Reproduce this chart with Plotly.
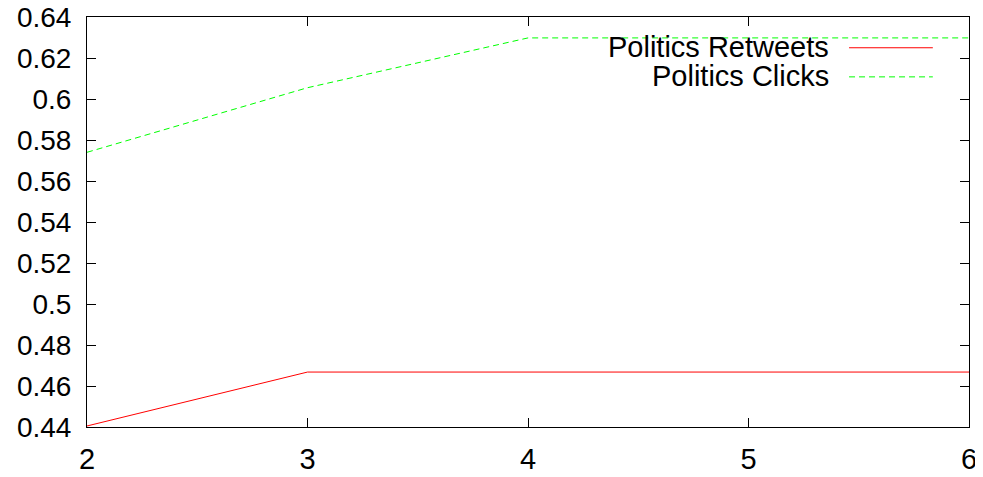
import plotly.graph_objects as go

x_vals = [2, 3, 4, 5, 6]
retweets = [0.4405, 0.4668, 0.4668, 0.4668, 0.4668]
clicks = [0.574, 0.6055, 0.6298, 0.6298, 0.6298]
series_names = ["Politics Retweets", "Politics Clicks"]
y_tick_vals = [0.44, 0.46, 0.48, 0.50, 0.52, 0.54, 0.56, 0.58, 0.60, 0.62, 0.64]
y_tick_text = ["0.44", "0.46", "0.48", "0.5", "0.52", "0.54", "0.56", "0.58", "0.6", "0.62", "0.64"]
x_tick_vals = [2, 3, 4, 5, 6]

font = dict(family="Liberation Sans, Arial, sans-serif", size=29, color="black")
yfont = dict(family="Liberation Sans, Arial, sans-serif", size=28, color="black")

fig = go.Figure()
fig.add_trace(go.Scatter(x=x_vals, y=retweets, mode="lines", name=series_names[0],
                         line=dict(color="#ff0000", width=1), showlegend=False))
fig.add_trace(go.Scatter(x=x_vals, y=clicks, mode="lines", name=series_names[1],
                         line=dict(color="#00ff00", width=1, dash="6px,4px"), showlegend=False))

# gnuplot-style legend: right-aligned text, sample to the right
legend_rows = [(series_names[0], "#ff0000", "solid", 0.927), (series_names[1], "#00ff00", "6px,4px", 0.856)]
for name, color, dash, yp in legend_rows:
    fig.add_annotation(text=name, x=0.843, y=yp, xref="paper", yref="paper",
                       xanchor="right", yanchor="middle", showarrow=False, font=font)
    fig.add_shape(type="line", xref="paper", yref="paper", x0=0.864, x1=0.959, y0=yp - 0.002, y1=yp - 0.002,
                  line=dict(color=color, width=1, dash=dash))

fig.update_xaxes(range=[2, 6], tickvals=x_tick_vals, ticks="inside", ticklen=9, tickcolor="black",
                 showline=True, linecolor="black", linewidth=1, mirror="allticks", automargin=False,
                 showgrid=False, zeroline=False, tickfont=font, ticklabelstandoff=6,
                 ticklabeloverflow="allow")
fig.update_yaxes(range=[0.44, 0.64], tickvals=y_tick_vals, ticktext=y_tick_text, ticks="inside", ticklen=9,
                 tickcolor="black", showline=True, linecolor="black", linewidth=1, mirror="allticks",
                 automargin=False, showgrid=False, zeroline=False, tickfont=yfont, ticklabelstandoff=9,
                 ticklabeloverflow="allow")
fig.update_layout(width=975, height=469, margin=dict(l=79, r=14, t=9, b=50),
                  plot_bgcolor="white", paper_bgcolor="white", showlegend=False)
fig.write_html("out.html")
